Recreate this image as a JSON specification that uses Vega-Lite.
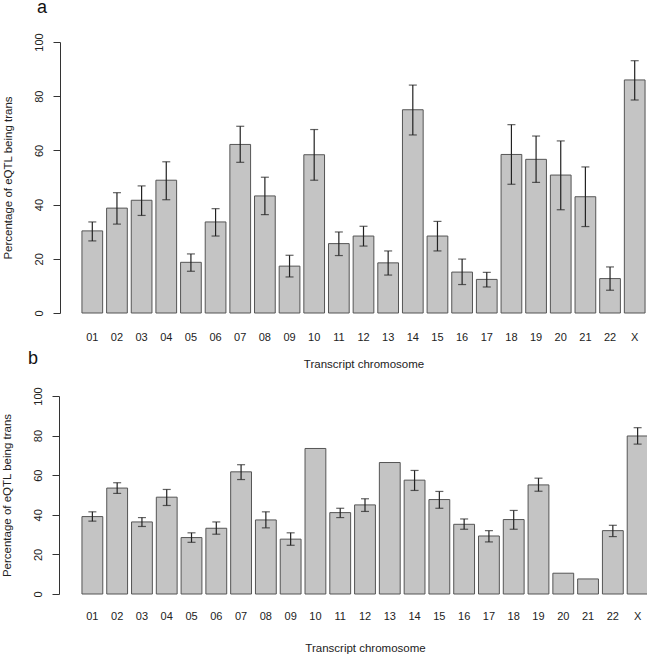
{
  "$schema": "https://vega.github.io/schema/vega-lite/v6.json",
  "padding": {"left": 0, "top": -2, "right": 0, "bottom": 0},
  "background": "white",
  "spacing": 83,
  "bounds": "flush",
  "config": {
    "view": {"stroke": null},
    "font": "Liberation Sans",
    "axis": {"grid": false, "labelFont": "Liberation Sans", "titleFont": "Liberation Sans", "labelFontSize": 11, "titleFontSize": 11.5, "labelColor": "#222", "titleColor": "#222", "titleFontWeight": "normal", "domainColor": "#333", "tickColor": "#333", "labelFlush": false, "labelOverlap": false},
    "title": {"fontSize": 18, "fontWeight": "normal", "anchor": "start", "color": "#111", "frame": "group", "font": "Liberation Sans"}
  },
  "datasets": {
    "a": [
      {"chr": "01", "value": 30.3, "low": 26.6, "high": 33.6},
      {"chr": "02", "value": 38.7, "low": 32.8, "high": 44.4},
      {"chr": "03", "value": 41.6, "low": 36.0, "high": 46.9},
      {"chr": "04", "value": 49.0, "low": 41.8, "high": 55.8},
      {"chr": "05", "value": 18.7, "low": 15.4, "high": 21.8},
      {"chr": "06", "value": 33.6, "low": 28.4, "high": 38.5},
      {"chr": "07", "value": 62.2, "low": 55.6, "high": 68.9},
      {"chr": "08", "value": 43.2, "low": 36.3, "high": 50.1},
      {"chr": "09", "value": 17.3, "low": 13.3, "high": 21.3},
      {"chr": "10", "value": 58.4, "low": 49.0, "high": 67.7},
      {"chr": "11", "value": 25.6, "low": 21.2, "high": 29.9},
      {"chr": "12", "value": 28.4, "low": 24.7, "high": 32.0},
      {"chr": "13", "value": 18.5, "low": 14.0, "high": 22.9},
      {"chr": "14", "value": 75.0, "low": 65.7, "high": 84.1},
      {"chr": "15", "value": 28.4, "low": 22.9, "high": 33.8},
      {"chr": "16", "value": 15.1, "low": 10.5, "high": 19.9},
      {"chr": "17", "value": 12.4, "low": 9.6, "high": 15.0},
      {"chr": "18", "value": 58.5, "low": 47.5, "high": 69.5},
      {"chr": "19", "value": 56.7, "low": 48.2, "high": 65.3},
      {"chr": "20", "value": 50.9, "low": 38.1, "high": 63.5},
      {"chr": "21", "value": 42.9, "low": 31.9, "high": 53.9},
      {"chr": "22", "value": 12.7, "low": 8.4, "high": 17.0},
      {"chr": "X", "value": 86.0, "low": 78.6, "high": 93.1}
    ],
    "b": [
      {"chr": "01", "value": 39.1, "low": 36.8, "high": 41.5},
      {"chr": "02", "value": 53.5, "low": 50.8, "high": 56.2},
      {"chr": "03", "value": 36.4, "low": 34.1, "high": 38.6},
      {"chr": "04", "value": 48.9, "low": 44.7, "high": 52.8},
      {"chr": "05", "value": 28.5, "low": 26.1, "high": 30.9},
      {"chr": "06", "value": 33.2, "low": 30.2, "high": 36.4},
      {"chr": "07", "value": 61.7, "low": 57.8, "high": 65.3},
      {"chr": "08", "value": 37.4, "low": 33.4, "high": 41.5},
      {"chr": "09", "value": 27.7, "low": 24.6, "high": 30.9},
      {"chr": "10", "value": 73.5, "low": null, "high": null},
      {"chr": "11", "value": 41.1, "low": 38.6, "high": 43.3},
      {"chr": "12", "value": 45.0, "low": 41.7, "high": 48.1},
      {"chr": "13", "value": 66.4, "low": null, "high": null},
      {"chr": "14", "value": 57.5, "low": 52.3, "high": 62.4},
      {"chr": "15", "value": 47.7, "low": 43.3, "high": 51.8},
      {"chr": "16", "value": 35.2, "low": 32.7, "high": 37.9},
      {"chr": "17", "value": 29.3, "low": 26.3, "high": 32.0},
      {"chr": "18", "value": 37.6, "low": 32.7, "high": 42.2},
      {"chr": "19", "value": 55.1, "low": 51.9, "high": 58.5},
      {"chr": "20", "value": 10.5, "low": null, "high": null},
      {"chr": "21", "value": 7.6, "low": null, "high": null},
      {"chr": "22", "value": 32.0, "low": 29.0, "high": 34.7},
      {"chr": "X", "value": 79.8, "low": 75.7, "high": 84.0}
    ]
  },
  "vconcat": [
    {
      "width": 571,
      "height": 271,
      "title": {"text": "a", "dx": -41, "offset": 2, "baseline": "alphabetic"},
      "data": {"name": "a"},
      "encoding": {
        "x": {"field": "chr", "type": "ordinal", "sort": null,
          "scale": {"paddingInner": 0.16, "paddingOuter": 0.16},
          "axis": {"title": "Transcript chromosome", "labelAngle": 0, "ticks": false, "tickSize": 0, "domain": false, "labelPadding": 18, "labelBaseline": "top", "titlePadding": 16}}
      },
      "layer": [
        {"mark": {"type": "bar", "fill": "#c4c4c4", "stroke": "#555", "strokeWidth": 1},
         "encoding": {"y": {"field": "value", "type": "quantitative", "scale": {"domain": [0, 100], "nice": false},
           "axis": {"title": "Percentage of eQTL being trans", "values": [0, 20, 40, 60, 80, 100], "tickCount": 10, "labelOverlap": false, "offset": 18, "tickSize": 7, "labelAngle": -90, "labelAlign": "center", "labelBaseline": "alphabetic", "labelPadding": 11, "titlePadding": 22, "titleBaseline": "alphabetic"}}}},
        {"mark": {"type": "rule", "color": "#222", "strokeWidth": 1.2},
         "encoding": {"y": {"field": "low", "type": "quantitative", "title": "Percentage of eQTL being trans"}, "y2": {"field": "high"}}},
        {"mark": {"type": "tick", "color": "#222", "size": 8, "thickness": 1.2},
         "encoding": {"y": {"field": "low", "type": "quantitative", "title": "Percentage of eQTL being trans"}}},
        {"mark": {"type": "tick", "color": "#222", "size": 8, "thickness": 1.2},
         "encoding": {"y": {"field": "high", "type": "quantitative", "title": "Percentage of eQTL being trans"}}}
      ]
    },
    {
      "width": 574,
      "height": 198,
      "title": {"text": "b", "dx": -50, "offset": 5, "baseline": "alphabetic"},
      "data": {"name": "b"},
      "encoding": {
        "x": {"field": "chr", "type": "ordinal", "sort": null,
          "scale": {"paddingInner": 0.16, "paddingOuter": 0.16},
          "axis": {"title": "Transcript chromosome", "labelAngle": 0, "ticks": false, "tickSize": 0, "domain": false, "labelPadding": 16, "labelBaseline": "top", "titlePadding": 21}}
      },
      "layer": [
        {"mark": {"type": "bar", "fill": "#c4c4c4", "stroke": "#555", "strokeWidth": 1},
         "encoding": {"y": {"field": "value", "type": "quantitative", "scale": {"domain": [0, 100], "nice": false},
           "axis": {"title": "Percentage of eQTL being trans", "values": [0, 20, 40, 60, 80, 100], "tickCount": 10, "labelOverlap": false, "offset": 19, "tickSize": 7, "labelAngle": -90, "labelAlign": "center", "labelBaseline": "alphabetic", "labelPadding": 11, "titlePadding": 22, "titleBaseline": "alphabetic"}}}},
        {"mark": {"type": "rule", "color": "#222", "strokeWidth": 1.2},
         "encoding": {"y": {"field": "low", "type": "quantitative", "title": "Percentage of eQTL being trans"}, "y2": {"field": "high"}}},
        {"mark": {"type": "tick", "color": "#222", "size": 8, "thickness": 1.2},
         "encoding": {"y": {"field": "low", "type": "quantitative", "title": "Percentage of eQTL being trans"}}},
        {"mark": {"type": "tick", "color": "#222", "size": 8, "thickness": 1.2},
         "encoding": {"y": {"field": "high", "type": "quantitative", "title": "Percentage of eQTL being trans"}}}
      ]
    }
  ]
}
